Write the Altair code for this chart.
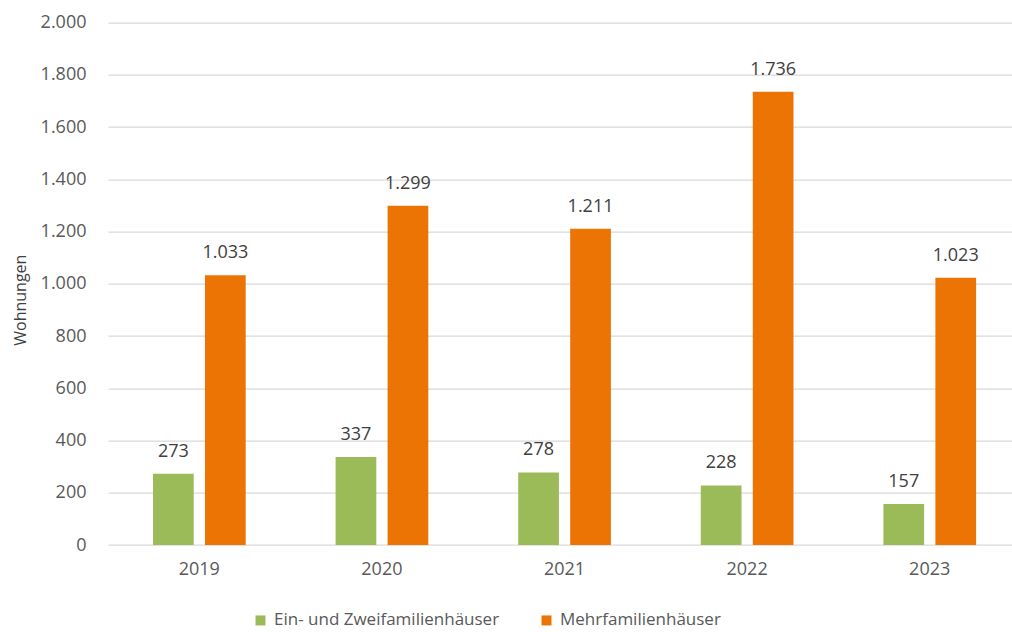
import altair as alt
import pandas as pd

# Fertiggestellte Wohnungen nach Gebäudeart
years = ["2019", "2020", "2021", "2022", "2023"]
series = ["Ein- und Zweifamilienhäuser", "Mehrfamilienhäuser"]
ein_zwei = [273, 337, 278, 228, 157]
mehr = [1033, 1299, 1211, 1736, 1023]
colors = ["#9BBB59", "#EC7405"]
y_ticks = [0, 200, 400, 600, 800, 1000, 1200, 1400, 1600, 1800, 2000]

rows = []
for i, y in enumerate(years):
    for name, vals in zip(series, [ein_zwei, mehr]):
        v = vals[i]
        rows.append({"Jahr": y, "Art": name, "Wohnungen": v,
                     "Label": f"{v:,}".replace(",", ".")})
df = pd.DataFrame(rows)

FONT = "Open Sans"

x_enc = alt.X("Jahr:N", sort=years,
              scale=alt.Scale(range=[0, 913], paddingInner=0, paddingOuter=0),
              axis=alt.Axis(title=None, labelAngle=0, ticks=False, domain=False,
                            labelPadding=15, labelFontSize=18, labelColor="#595959",
                            labelFont=FONT, grid=False))
xo_enc = alt.XOffset("Art:N", sort=series,
                     scale=alt.Scale(domain=series, range=[45, 137.7],
                                     paddingInner=0.217, paddingOuter=0))
y_enc = alt.Y("Wohnungen:Q",
              scale=alt.Scale(domain=[0, 2000], nice=False),
              axis=alt.Axis(values=y_ticks, title="Wohnungen", ticks=False, domain=False,
                            labelPadding=22, labelFontSize=18, labelColor="#595959",
                            labelFont=FONT,
                            labelExpr="replace(format(datum.value, ',d'), ',', '.')",
                            gridColor="#D9D9D9", gridWidth=1.3,
                            titleFont=FONT, titleFontSize=16, titleFontWeight="normal",
                            titleColor="#404040", titleAngle=-90,
                            titleX=-88, titleY=277, titleAlign="center",
                            titleBaseline="middle"))

base = alt.Chart(df).encode(x=x_enc, xOffset=xo_enc, y=y_enc)

bars = base.mark_bar().encode(
    color=alt.Color("Art:N", sort=series,
                    scale=alt.Scale(domain=series, range=colors),
                    legend=alt.Legend(title=None, orient="none", direction="horizontal",
                                      legendX=144, legendY=589, padding=0,
                                      symbolType="square", symbolSize=100,
                                      symbolStrokeWidth=0, labelOffset=5,
                                      columnPadding=38, labelFont=FONT,
                                      labelFontSize=17, labelColor="#595959",
                                      labelLimit=400))
)

labels = base.mark_text(baseline="bottom", dy=-13, font=FONT, fontSize=18,
                        color="#404040").encode(text="Label:N")

chart = (bars + labels).properties(
    width=904, height=522.3,
    autosize=alt.AutoSizeParams(type="none"),
    padding={"left": 108, "top": 22.7, "right": 0, "bottom": 87},
).configure(background="white").configure_view(stroke="transparent", strokeWidth=0)

chart.save("out.html", embed_options={"renderer": "svg", "actions": False})
